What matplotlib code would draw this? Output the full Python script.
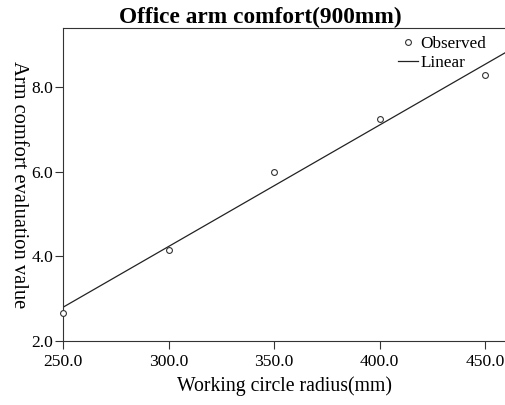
import numpy as np
import matplotlib
matplotlib.use("Agg")
import matplotlib.pyplot as plt
from matplotlib.lines import Line2D

radius = [250, 300, 350, 400, 450]
comfort = [2.66, 4.15, 5.99, 7.24, 8.28]
xticks = [250, 300, 350, 400, 450]
yticks = [2.0, 4.0, 6.0, 8.0]

plt.rcParams['font.family'] = ['Liberation Serif', 'DejaVu Serif']

fig = plt.figure(figsize=(5.05, 4.05), dpi=100)
ax = fig.add_axes([0.125, 0.158, 0.875, 0.773])

xlim = (250, 459.5)
ylim = (2.0, 9.39)

coef = np.polyfit(radius, comfort, 1)
xl = np.array(xlim)
ax.plot(xl, np.polyval(coef, xl), color='#222222', lw=0.9, clip_on=True)
ax.plot(radius, comfort, 'o', mfc='white', mec='#333333', ms=4.2, mew=0.8, clip_on=False, zorder=3)

ax.set_xlim(*xlim)
ax.set_ylim(*ylim)
ax.set_xticks(xticks)
ax.set_xticklabels([f"{v:.1f}" for v in xticks])
ax.set_yticks(yticks)
ax.set_yticklabels([f"{v:.1f}" for v in yticks])
ax.tick_params(direction='out', length=6, width=0.8, labelsize=12.6, color='#333333')
ax.tick_params(axis='x', pad=3)
ax.tick_params(axis='y', pad=1)
for s in ['left', 'bottom', 'top']:
    ax.spines[s].set_linewidth(0.8)
    ax.spines[s].set_color('#333333')
ax.spines['right'].set_visible(False)

fig.text(260 / 505, 1 - 23.5 / 405, 'Office arm comfort(900mm)', fontsize=16.8,
         fontweight='bold', ha='center', va='baseline')
ax.set_xlabel('Working circle radius(mm)', fontsize=14.2, labelpad=5)
ax.set_ylabel('Arm comfort evaluation value', fontsize=14.8, rotation=270,
              va='center', ha='center')
ax.yaxis.set_label_coords(-0.102, 0.5)

handles = [Line2D([], [], ls='none', marker='o', mfc='white', mec='#333333', ms=4.2, mew=0.8),
           Line2D([], [], color='#222222', lw=0.9)]
ax.legend(handles, ['Observed', 'Linear'], loc='upper right', bbox_to_anchor=(0.985, 1.012),
          frameon=False, fontsize=12.3, handlelength=1.2, handletextpad=0.15,
          labelspacing=0.15, borderaxespad=0.3)

fig.savefig('out.png', dpi=100)
